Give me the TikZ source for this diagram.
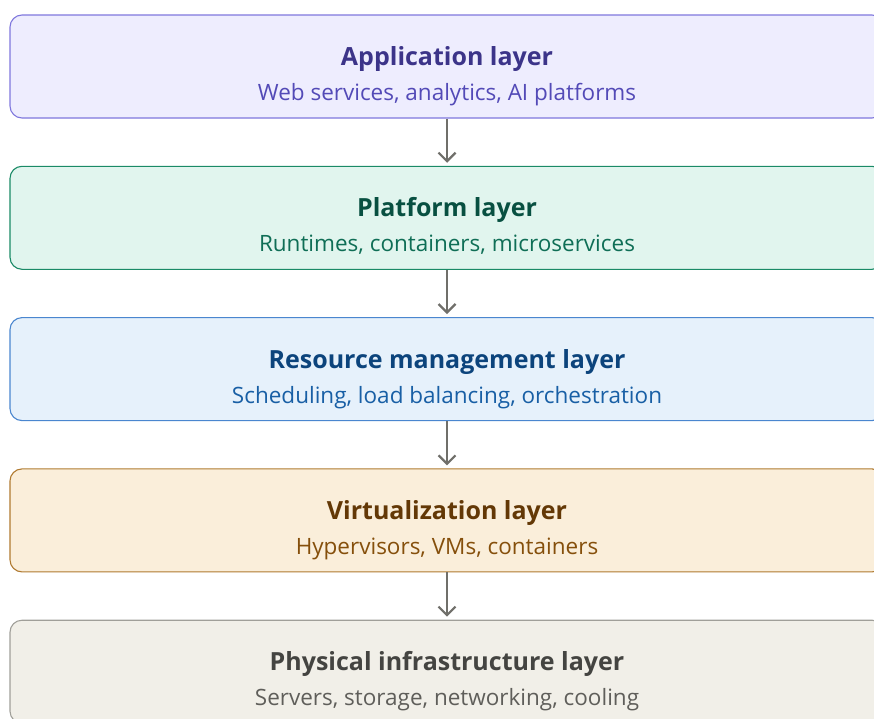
\documentclass[tikz,border=0pt]{standalone}
\usepackage{fontspec}
\setmainfont{Open Sans}
\usepackage{xcolor}
\definecolor{appfill}{HTML}{EEEDFE}
\definecolor{appline}{HTML}{7F77DD}
\definecolor{apphead}{HTML}{3C3489}
\definecolor{apptext}{HTML}{534AB7}
\definecolor{platfill}{HTML}{E1F5EE}
\definecolor{platline}{HTML}{1A8A66}
\definecolor{plathead}{HTML}{085041}
\definecolor{plattext}{HTML}{0F6E56}
\definecolor{resfill}{HTML}{E6F1FB}
\definecolor{resline}{HTML}{4A86CF}
\definecolor{reshead}{HTML}{0C447C}
\definecolor{restext}{HTML}{185FA5}
\definecolor{virtfill}{HTML}{FAEEDA}
\definecolor{virtline}{HTML}{B07A30}
\definecolor{virthead}{HTML}{633806}
\definecolor{virttext}{HTML}{854F0B}
\definecolor{physfill}{HTML}{F1EFE8}
\definecolor{physline}{HTML}{A09F99}
\definecolor{physhead}{HTML}{444441}
\definecolor{phystext}{HTML}{5F5E5A}
\definecolor{arrowgray}{HTML}{706F6A}
\usetikzlibrary{arrows.meta, positioning}

\begin{document}
\begin{tikzpicture}[x=1pt, y=1pt, >={Straight Barb[length=8.5pt, width=17pt]},
  layer/.style={draw, rounded corners=12pt, line width=1.1pt, minimum width=874pt, minimum height=103pt, inner sep=0pt},
  head/.style={anchor=base, font=\fontsize{25}{30}\selectfont\bfseries},
  sub/.style={anchor=base, font=\fontsize{22.5}{27}\selectfont},
  flow/.style={->, line width=2.2pt, color=arrowgray, shorten >=3pt}]
  \useasboundingbox (0,0) rectangle (874,-718);
  % Schichten
  \node[layer, fill=appfill, draw=appline] (app) at (447,-66.5) {};
  \node[layer, fill=platfill, draw=platline, below=47.2pt of app] (plat) {};
  \node[layer, fill=resfill, draw=resline, below=47.2pt of plat] (res) {};
  \node[layer, fill=virtfill, draw=virtline, below=47.2pt of res] (virt) {};
  \node[layer, fill=physfill, draw=physline, below=47.2pt of virt] (phys) {};
  % Texte
  \node[head, text=apphead] (app-h) at ([yshift=-51pt]app.north) {Application layer};
  \node[sub, text=apptext] (app-s) at ([yshift=-86pt]app.north) {Web services, analytics, AI platforms};
  \node[head, text=plathead] (plat-h) at ([yshift=-51pt]plat.north) {Platform layer};
  \node[sub, text=plattext] (plat-s) at ([yshift=-86pt]plat.north) {Runtimes, containers, microservices};
  \node[head, text=reshead] (res-h) at ([yshift=-51pt]res.north) {Resource management layer};
  \node[sub, text=restext] (res-s) at ([yshift=-86pt]res.north) {Scheduling, load balancing, orchestration};
  \node[head, text=virthead] (virt-h) at ([yshift=-51pt]virt.north) {Virtualization layer};
  \node[sub, text=virttext] (virt-s) at ([yshift=-86pt]virt.north) {Hypervisors, VMs, containers};
  \node[head, text=physhead] (phys-h) at ([yshift=-51pt]phys.north) {Physical infrastructure layer};
  \node[sub, text=phystext] (phys-s) at ([yshift=-86pt]phys.north) {Servers, storage, networking, cooling};
  % Pfeile
  \draw[flow] (app) -- (plat);
  \draw[flow] (plat) -- (res);
  \draw[flow] (res) -- (virt);
  \draw[flow] (virt) -- (phys);
\end{tikzpicture}
\end{document}
